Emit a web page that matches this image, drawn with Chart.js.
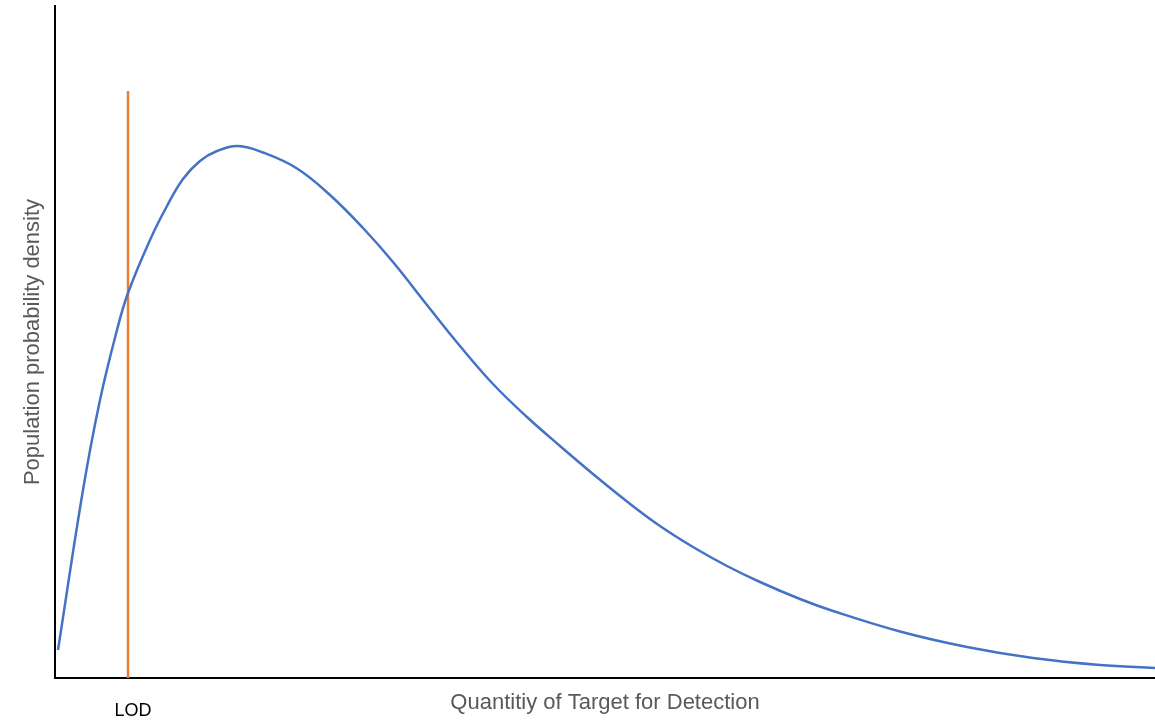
<!DOCTYPE html>
<html>
<head>
<meta charset="utf-8">
<script src="https://cdn.jsdelivr.net/npm/chart.js@4.4.1/dist/chart.umd.min.js"></script>
<style>
  body { margin: 0; background: #fff; }
  #wrap { width: 1155px; height: 721px; }
</style>
</head>
<body>
<div id="wrap"><canvas id="graficoDensidad"></canvas></div>
<script>
// valores (unidades arbitrarias)
const quantity = [3, 28, 45, 62, 73, 95, 112, 128, 145, 162, 183, 208, 242, 275, 308, 338, 372, 405, 438, 472, 505, 538, 572, 605, 638, 672, 705, 745, 778, 845, 912, 978, 1045, 1100];
const density  = [28, 188, 278, 348, 385, 438, 472, 499, 517, 527, 532, 525.5, 509.5, 483, 450, 416, 373, 332, 294, 261, 232, 204, 176.5, 152, 131, 112, 96, 79, 67, 46.5, 31, 20, 13, 10];
const lodX = 73;
const lodTop = 587;
const xMax = 1100;
const yMax = 672;

const puntos = quantity.map((q, i) => ({ x: q, y: density[i] }));

const lodLabel = {
  id: 'lodLabel',
  afterDraw(chart) {
    const ctx = chart.ctx;
    const px = chart.scales.x.getPixelForValue(lodX);
    ctx.save();
    ctx.font = '18px "Liberation Sans", Arial, sans-serif';
    ctx.fillStyle = '#000';
    ctx.textAlign = 'center';
    ctx.textBaseline = 'middle';
    ctx.fillText('LOD', px + 5, chart.chartArea.bottom + 33);
    ctx.restore();
  }
};

const ctx = document.getElementById('graficoDensidad').getContext('2d');
const myChart = new Chart(ctx, {
  type: 'line',
  data: {
    datasets: [
      {
        label: 'Density',
        data: puntos,
        borderColor: '#4472C4',
        borderWidth: 2.5,
        pointRadius: 0,
        tension: 0.4,
      },
      {
        label: 'LOD',
        data: [{ x: lodX, y: 0 }, { x: lodX, y: lodTop }],
        borderColor: '#ED7D31',
        borderWidth: 2.5,
        pointRadius: 0,
      },
    ],
  },
  options: {
    responsive: true,
    maintainAspectRatio: false,
    animation: false,
    layout: { padding: { top: 6, right: 0, left: 0, bottom: 0 } },
    plugins: { legend: { display: false }, tooltip: { enabled: false } },
    scales: {
      x: {
        type: 'linear',
        min: 0,
        max: xMax,
        grid: { display: false },
        border: { display: true, color: '#000', width: 2 },
        ticks: { display: false },
        title: {
          display: true,
          text: 'Quantitiy of Target for Detection',
          color: '#595959',
          font: { family: '"Liberation Sans", Arial, sans-serif', size: 22 },
          padding: { top: 0, bottom: 5 },
        },
        afterFit: (s) => { s.height = 43; },
      },
      y: {
        min: 0,
        max: yMax,
        grid: { display: false },
        border: { display: true, color: '#000', width: 2 },
        ticks: { display: false },
        title: {
          display: true,
          text: 'Population probability density',
          color: '#595959',
          font: { family: '"Liberation Sans", Arial, sans-serif', size: 22 },
          padding: { top: 20, bottom: 0 },
        },
        afterFit: (s) => { s.width = 55; },
      },
    },
  },
  plugins: [lodLabel],
});
</script>
</body>
</html>
